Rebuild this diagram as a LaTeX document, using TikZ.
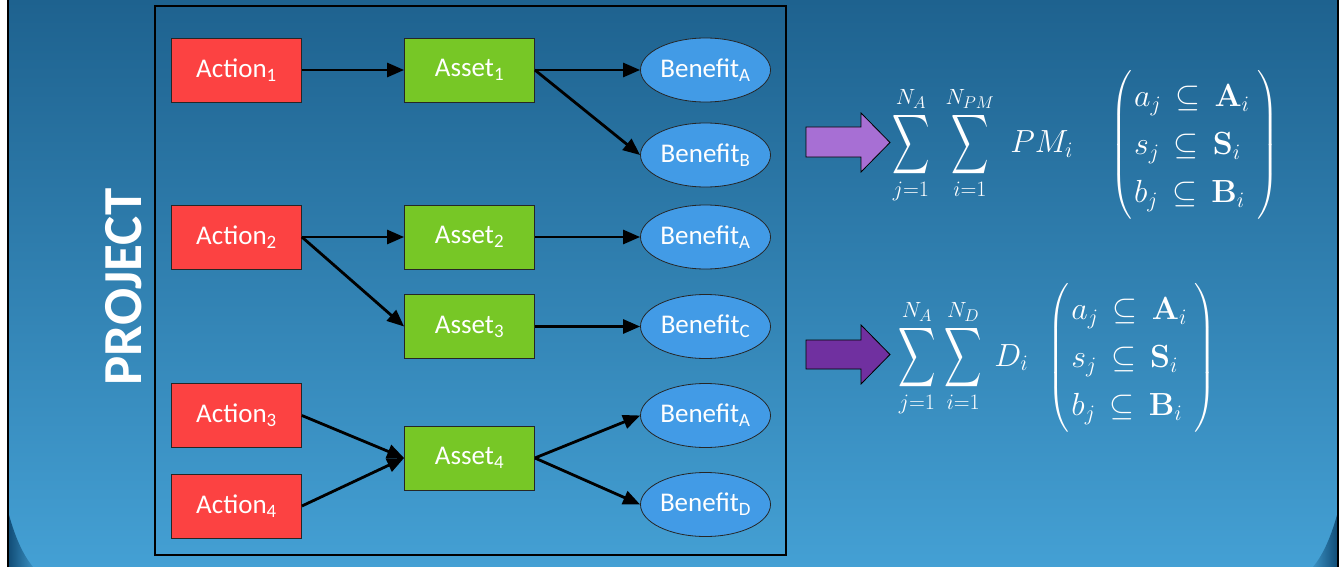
\RequirePackage{fix-cm}
\documentclass[tikz,border=0pt]{standalone}
\usepackage{amsmath}
\usepackage{graphicx}
\usepackage[no-math]{fontspec}
\setmainfont{Carlito}
\usetikzlibrary{shapes.geometric,arrows.meta}
\DeclareMathSizes{32}{32}{22}{17}

\definecolor{actred}{RGB}{252,66,66}
\definecolor{assetgreen}{RGB}{119,199,38}
\definecolor{benblue}{RGB}{66,155,230}
\definecolor{bgtop}{RGB}{30,98,143}
\definecolor{bgbot}{RGB}{68,160,212}
\definecolor{corner}{RGB}{18,78,120}
\definecolor{lilac}{RGB}{167,111,212}
\definecolor{plum}{RGB}{112,48,160}

% tall, narrow summation sign
\newcommand{\BigSum}{\mathop{\vcenter{\hbox{\scalebox{1.04}[1.67]{$\displaystyle\sum$}}}}\limits}
% the three membership conditions
\newcommand{\Conds}{\left(\begin{array}{@{\hspace{2pt}}l@{\hspace{8pt}}} a_j \subseteq \mathbf{A}_i\\ s_j \subseteq \mathbf{S}_i\\ b_j \subseteq \mathbf{B}_i\end{array}\right)}

\tikzset{
  actionbox/.style={draw=black!85, line width=0.8pt, fill=actred, minimum width=130pt,
    minimum height=64pt, inner sep=0pt, text=white, font=\fontsize{27}{30}\selectfont},
  assetbox/.style={actionbox, fill=assetgreen},
  benefit/.style={ellipse, draw=black!85, line width=0.8pt, fill=benblue, minimum width=130pt,
    minimum height=64pt, inner sep=0pt, text=white, font=\fontsize{27}{30}\selectfont},
  link/.style={line width=2.8pt, -{Triangle[length=17pt,width=14pt]}},
  fatarrow/.style={draw=black, line width=0.8pt},
  formula/.style={text=white, inner sep=0pt, anchor=west, font=\fontsize{32}{35}\selectfont}
}

\begin{document}
\begin{tikzpicture}[x=1pt,y=-1pt]
  \useasboundingbox (0,0) rectangle (1341,567);

  % slide background
  \fill[white] (0,0) rectangle (1341,567);
  \shade[top color=bgtop, bottom color=bgbot] (9,0) rectangle (1337,567);
  \shade[left color=corner, right color=bgbot!80!corner] (9,515) .. controls (16,540) and (24,556) .. (33,567) -- (9,567) -- cycle;
  \shade[right color=corner, left color=bgbot!80!corner] (1337,515) .. controls (1330,540) and (1322,556) .. (1313,567) -- (1337,567) -- cycle;
  \draw[line width=2pt] (8,0) -- (8,567);
  \draw[line width=2pt] (1338,0) -- (1338,567);

  % project frame and its title
  \node[draw=black, line width=2.4pt, minimum width=631pt, minimum height=549pt, inner sep=0pt]
    (frame) at (470.5,280.5) {};
  \node[rotate=90, text=white, font=\fontsize{55}{60}\selectfont\bfseries] (title) at (124,287) {PROJECT};

  % actions
  \node[actionbox] (a1) at (236.5,70)  {Action\textsubscript{1}};
  \node[actionbox] (a2) at (236.5,237) {Action\textsubscript{2}};
  \node[actionbox] (a3) at (236.5,415.5) {Action\textsubscript{3}};
  \node[actionbox] (a4) at (236.5,506) {Action\textsubscript{4}};

  % assets
  \node[assetbox] (s1) at (469.5,70)  {Asset\textsubscript{1}};
  \node[assetbox] (s2) at (469.5,237) {Asset\textsubscript{2}};
  \node[assetbox] (s3) at (469.5,326.5) {Asset\textsubscript{3}};
  \node[assetbox] (s4) at (469.5,458) {Asset\textsubscript{4}};

  % benefits
  \node[benefit] (b1) at (705.5,70)  {Benefit\textsubscript{A}};
  \node[benefit] (b2) at (705.5,155) {Benefit\textsubscript{B}};
  \node[benefit] (b3) at (705.5,237) {Benefit\textsubscript{A}};
  \node[benefit] (b4) at (705.5,326.5) {Benefit\textsubscript{C}};
  \node[benefit] (b5) at (705.5,415.5) {Benefit\textsubscript{A}};
  \node[benefit] (b6) at (705.5,504.5) {Benefit\textsubscript{D}};

  % links
  \draw[link] (a1.east) -- (s1.west);
  \draw[link] (a2.east) -- (s2.west);
  \draw[link] (a2.east) -- (s3.west);
  \draw[link] (a3.east) -- (s4.west);
  \draw[link] (a4.east) -- (s4.west);
  \draw[link] (s1.east) -- (b1.west);
  \draw[link] (s1.east) -- (b2.west);
  \draw[link] (s2.east) -- (b3.west);
  \draw[link] (s3.east) -- (b4.west);
  \draw[link] (s4.east) -- (b5.west);
  \draw[link] (s4.east) -- (b6.west);

  % block arrows
  \draw[fatarrow, fill=lilac] (806,127) -- (861,127) -- (861,113) -- (890,142.5)
    -- (861,172) -- (861,157) -- (806,157) -- cycle;
  \draw[fatarrow, fill=plum] (806,340) -- (861,340) -- (861,325) -- (890,354.5)
    -- (861,384) -- (861,369) -- (806,369) -- cycle;

  % formulas
  \node[formula] (f1) at (892,145) {\thickmuskip=8mu\relax\renewcommand{\arraystretch}{1.38}%
    $\displaystyle \BigSum_{j=1}^{N_A}\mkern6mu\BigSum_{i=1}^{N_{PM}}\mkern6mu PM_i\mkern18mu \Conds$};
  \node[formula] (f2) at (898,358) {\thickmuskip=8mu\relax\renewcommand{\arraystretch}{1.38}%
    $\displaystyle \BigSum_{j=1}^{N_A}\mkern2mu\BigSum_{i=1}^{N_D}\mkern4mu D_i\mkern8mu \Conds$};
\end{tikzpicture}
\end{document}
